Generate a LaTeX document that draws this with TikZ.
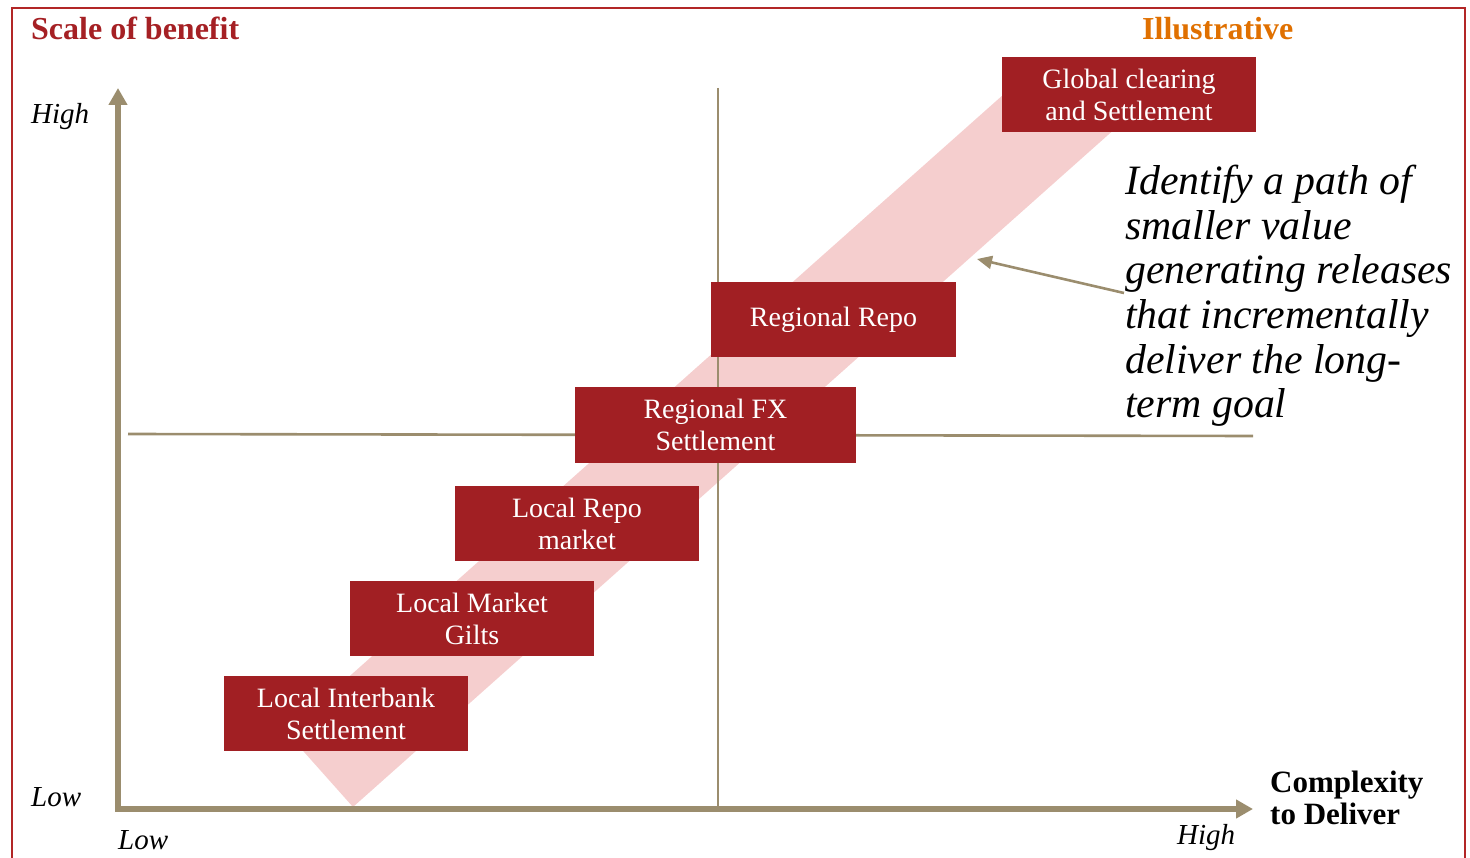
\documentclass[tikz,border=0pt]{standalone}
\usepackage{fontspec}
\setmainfont{Liberation Serif}
\usetikzlibrary{arrows.meta}

\definecolor{boxred}{RGB}{161,31,35}
\definecolor{bandpink}{RGB}{245,206,206}
\definecolor{axistan}{RGB}{155,141,110}
\definecolor{framered}{RGB}{178,38,38}
\definecolor{titlered}{RGB}{165,32,36}
\definecolor{tagorange}{RGB}{224,112,0}

\tikzset{
  stage/.style={fill=boxred, text=white, inner sep=0pt, align=center,
    minimum height=75pt, font=\fontsize{28}{32}\selectfont},
  axisline/.style={draw=axistan, line width=5.5pt,
    -{Triangle[length=17pt,width=18pt]}},
  gridline/.style={draw=axistan, line width=2.6pt},
  calloutline/.style={draw=axistan, line width=2.6pt,
    -{Triangle[length=15pt,width=13pt]}},
  heading/.style={anchor=base west, inner sep=0pt,
    font=\fontsize{32}{32}\selectfont\bfseries},
  level/.style={anchor=base west, inner sep=0pt,
    font=\fontsize{29}{32}\selectfont\itshape},
}

\begin{document}
\begin{tikzpicture}[x=1pt, y=-1pt]
\useasboundingbox (0,0) rectangle (1470,858);

% outer frame (open at the bottom)
\draw[framered, line width=2.4pt] (12,870) -- (12,8) -- (1465,8) -- (1465,870);

% diagonal path band
\fill[bandpink] (353,807) -- (286.5,732.3) -- (1040,62) -- (1190,62) -- cycle;

% quadrant dividers
\coordinate (vtop) at (718,88);
\coordinate (vbot) at (718,809);
\coordinate (hleft) at (128,434);
\coordinate (hright) at (1253,436);
\draw[gridline] (vtop) -- (vbot);
\draw[gridline] (hleft) -- (hright);

% axes
\coordinate (ycorner) at (118,811.5);
\coordinate (xstart) at (115.5,809);
\coordinate (ytip) at (118,88);
\coordinate (xtip) at (1253,809);
\draw[axisline] (ycorner) -- (ytip);
\draw[axisline] (xstart) -- (xtip);

% release stages
\node[stage, minimum width=254pt] (global) at (1129,95) {Global clearing\\and Settlement};
\node[stage, minimum width=245pt] (rrepo) at (833.5,320) {Regional Repo};
\node[stage, minimum width=281pt] (rfx) at (715.5,425) {Regional FX\\Settlement};
\node[stage, minimum width=244pt] (lrepo) at (577,523.5) {Local Repo\\market};
\node[stage, minimum width=244pt] (gilts) at (472,618.5) {Local Market\\Gilts};
\node[stage, minimum width=244pt] (interbank) at (346,713.5) {Local Interbank\\Settlement};

% headings
\node[heading, text=titlered] (ytitle) at (31,40) {Scale of benefit};
\node[heading, text=tagorange] (tag) at (1142,40) {Illustrative};
\node[heading, anchor=north west, align=left, font=\fontsize{31}{32}\selectfont\bfseries]
  (xtitle) at (1270,771) {Complexity\\to Deliver};

% axis levels
\node[level] (yhigh) at (31,124) {High};
\node[level] (ylow) at (31,806) {Low};
\node[level] (xlow) at (118,849) {Low};
\node[level] (xhigh) at (1177,844) {High};

% annotation
\node[anchor=north west, inner sep=0pt, align=left,
  font=\fontsize{41.8}{44.6}\selectfont\itshape] (note) at (1125,165)
  {Identify a path of\\smaller value\\generating releases\\that incrementally\\deliver the long-\\term goal};
\coordinate (notefoot) at (1124,293);
\coordinate (bandedge) at (977,259);
\draw[calloutline] (notefoot) -- (bandedge);
\end{tikzpicture}
\end{document}
